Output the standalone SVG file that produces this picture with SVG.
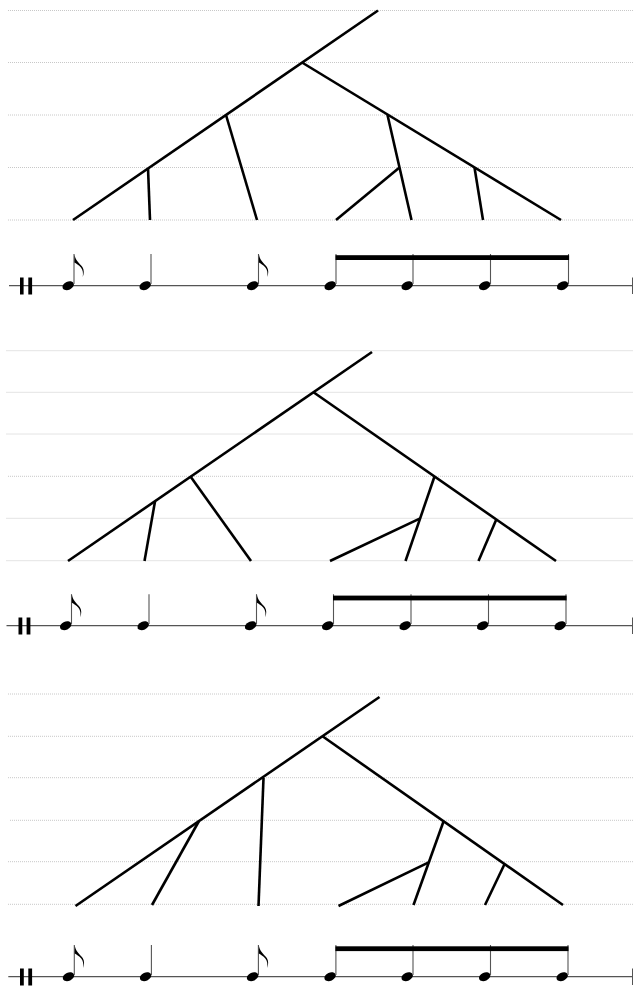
<svg xmlns="http://www.w3.org/2000/svg" xmlns:xlink="http://www.w3.org/1999/xlink" width="633" height="987" viewBox="0 0 633 987">
<style>
.grid{stroke:#c8c8c8;stroke-width:1;stroke-dasharray:1 1;fill:none}
.tree{stroke:#000;stroke-width:2.6;fill:none;stroke-linecap:butt}
.staff{stroke:#555;stroke-width:1.3;fill:none}
.stem{stroke:#555;stroke-width:1.1;fill:none}
.bar{fill:#000}
.endbar{stroke:#555;stroke-width:1;fill:none}
.beam{fill:#000}
</style>
<defs>
<ellipse id="head" cx="0" cy="0" rx="6" ry="4.1" transform="rotate(-24)" fill="#000"/>
<path id="flag" d="M0,0 C0.5,6 5,9 8,13 C9.8,16 9.7,19.5 8.3,23 C9,19 8.5,16 6.5,13.5 C4.5,11 1.5,9.5 0,8.5 Z" fill="#000"/>
</defs>

<!-- Panel 1 -->
<g id="grid1">
<line class="grid" x1="8" y1="10.5" x2="633" y2="10.5"/>
<line class="grid" x1="8" y1="62.5" x2="633" y2="62.5"/>
<line class="grid" x1="8" y1="115" x2="633" y2="115"/>
<line class="grid" x1="8" y1="167.5" x2="633" y2="167.5"/>
<line class="grid" x1="8" y1="220" x2="633" y2="220"/>
</g>
<g id="tree1-connectors">
<line class="tree" x1="378" y1="10.5" x2="73" y2="220"/>
<line class="tree" x1="302" y1="62.5" x2="561" y2="220"/>
<line class="tree" x1="226" y1="115" x2="257" y2="220"/>
<line class="tree" x1="148" y1="168" x2="150" y2="220"/>
<line class="tree" x1="387.5" y1="115" x2="411.5" y2="220"/>
<line class="tree" x1="399.5" y1="167.5" x2="336" y2="220"/>
<line class="tree" x1="474.5" y1="167.5" x2="483" y2="220"/>
</g>
<g id="staff1">
<line class="staff" x1="9" y1="285.7" x2="633" y2="285.7"/>
<rect class="bar" x="20" y="277.5" width="3.6" height="17"/>
<rect class="bar" x="28.3" y="277.5" width="3.8" height="17"/>
<line class="endbar" x1="632.5" y1="277.5" x2="632.5" y2="294"/>
<g id="s1n1"><use xlink:href="#head" x="68.2" y="285.7"/><line class="stem" x1="74" y1="284" x2="74" y2="254"/><use xlink:href="#flag" x="74.4" y="254"/></g>
<g id="s1n2"><use xlink:href="#head" x="145.2" y="285.7"/><line class="stem" x1="151" y1="284" x2="151" y2="254"/></g>
<g id="s1n3"><use xlink:href="#head" x="252.7" y="285.7"/><line class="stem" x1="258.5" y1="284" x2="258.5" y2="254"/><use xlink:href="#flag" x="258.9" y="254"/></g>
<g id="s1n4"><use xlink:href="#head" x="330.2" y="285.7"/><line class="stem" x1="336" y1="284" x2="336" y2="254"/></g>
<g id="s1n5"><use xlink:href="#head" x="407.2" y="285.7"/><line class="stem" x1="413" y1="284" x2="413" y2="254"/></g>
<g id="s1n6"><use xlink:href="#head" x="484.7" y="285.7"/><line class="stem" x1="490.5" y1="284" x2="490.5" y2="254"/></g>
<g id="s1n7"><use xlink:href="#head" x="562.7" y="285.7"/><line class="stem" x1="568.5" y1="284" x2="568.5" y2="254"/></g>
<rect class="beam" x="335.5" y="255.2" width="233.6" height="4.8"/>
</g>

<!-- Panel 2 -->
<g id="grid2">
<line class="grid" x1="6.5" y1="350.7" x2="633" y2="350.7"/>
<line class="grid" x1="6.5" y1="392.3" x2="633" y2="392.3"/>
<line class="grid" x1="6.5" y1="434" x2="633" y2="434"/>
<line class="grid" x1="8" y1="476.3" x2="633" y2="476.3"/>
<line class="grid" x1="6.5" y1="518.3" x2="633" y2="518.3"/>
<line class="grid" x1="6.5" y1="560.7" x2="633" y2="560.7"/>
</g>
<g id="tree2-connectors">
<line class="tree" x1="372" y1="352" x2="68" y2="561"/>
<line class="tree" x1="313.5" y1="392.3" x2="556" y2="561"/>
<line class="tree" x1="190.5" y1="476.5" x2="251" y2="561"/>
<line class="tree" x1="155" y1="501.5" x2="144.5" y2="561"/>
<line class="tree" x1="434.5" y1="476.5" x2="405.5" y2="561"/>
<line class="tree" x1="420.2" y1="518.3" x2="330" y2="561"/>
<line class="tree" x1="496.3" y1="519.5" x2="478.5" y2="561"/>
</g>
<g id="staff2">
<line class="staff" x1="6.5" y1="625.7" x2="633" y2="625.7"/>
<rect class="bar" x="18.5" y="617.5" width="3.8" height="17"/>
<rect class="bar" x="26.6" y="617.5" width="3.8" height="17"/>
<line class="endbar" x1="632.5" y1="617.5" x2="632.5" y2="634"/>
<g id="s2n1"><use xlink:href="#head" x="65.7" y="625.7"/><line class="stem" x1="71.5" y1="624" x2="71.5" y2="594.2"/><use xlink:href="#flag" x="71.9" y="594.2"/></g>
<g id="s2n2"><use xlink:href="#head" x="143.2" y="625.7"/><line class="stem" x1="149" y1="624" x2="149" y2="594.2"/></g>
<g id="s2n3"><use xlink:href="#head" x="250.7" y="625.7"/><line class="stem" x1="256.5" y1="624" x2="256.5" y2="594.2"/><use xlink:href="#flag" x="256.9" y="594.2"/></g>
<g id="s2n4"><use xlink:href="#head" x="327.7" y="625.7"/><line class="stem" x1="333.5" y1="624" x2="333.5" y2="594.2"/></g>
<g id="s2n5"><use xlink:href="#head" x="405.2" y="625.7"/><line class="stem" x1="411" y1="624" x2="411" y2="594.2"/></g>
<g id="s2n6"><use xlink:href="#head" x="482.7" y="625.7"/><line class="stem" x1="488.5" y1="624" x2="488.5" y2="594.2"/></g>
<g id="s2n7"><use xlink:href="#head" x="560.2" y="625.7"/><line class="stem" x1="566" y1="624" x2="566" y2="594.2"/></g>
<rect class="beam" x="333" y="595.6" width="233.6" height="4.8"/>
</g>

<!-- Panel 3 -->
<g id="grid3">
<line class="grid" x1="8" y1="694" x2="633" y2="694"/>
<line class="grid" x1="8" y1="736.3" x2="633" y2="736.3"/>
<line class="grid" x1="8" y1="777.7" x2="633" y2="777.7"/>
<line class="grid" x1="10" y1="820.3" x2="633" y2="820.3"/>
<line class="grid" x1="8" y1="861.7" x2="633" y2="861.7"/>
<line class="grid" x1="8" y1="904.3" x2="633" y2="904.3"/>
</g>
<g id="tree3-connectors">
<line class="tree" x1="379.5" y1="697" x2="75.5" y2="906"/>
<line class="tree" x1="322.5" y1="736.3" x2="563" y2="905"/>
<line class="tree" x1="263.5" y1="778" x2="258.5" y2="906"/>
<line class="tree" x1="199" y1="821" x2="152" y2="905"/>
<line class="tree" x1="443.5" y1="821.5" x2="413.5" y2="905"/>
<line class="tree" x1="428.7" y1="862.3" x2="338.5" y2="906"/>
<line class="tree" x1="504.6" y1="864" x2="485" y2="905"/>
</g>
<g id="staff3">
<line class="staff" x1="8.3" y1="976.7" x2="633" y2="976.7"/>
<rect class="bar" x="20" y="968.5" width="3.8" height="17"/>
<rect class="bar" x="28.3" y="968.5" width="3.8" height="17"/>
<line class="endbar" x1="632.5" y1="968.5" x2="632.5" y2="985"/>
<g id="s3n1"><use xlink:href="#head" x="68.5" y="976.7"/><line class="stem" x1="74.3" y1="975" x2="74.3" y2="945"/><use xlink:href="#flag" x="74.7" y="945"/></g>
<g id="s3n2"><use xlink:href="#head" x="145.6" y="976.7"/><line class="stem" x1="151.4" y1="975" x2="151.4" y2="945"/></g>
<g id="s3n3"><use xlink:href="#head" x="252.6" y="976.7"/><line class="stem" x1="258.4" y1="975" x2="258.4" y2="945"/><use xlink:href="#flag" x="258.8" y="945"/></g>
<g id="s3n4"><use xlink:href="#head" x="330.1" y="976.7"/><line class="stem" x1="335.9" y1="975" x2="335.9" y2="945"/></g>
<g id="s3n5"><use xlink:href="#head" x="407.2" y="976.7"/><line class="stem" x1="413" y1="975" x2="413" y2="945"/></g>
<g id="s3n6"><use xlink:href="#head" x="484.7" y="976.7"/><line class="stem" x1="490.5" y1="975" x2="490.5" y2="945"/></g>
<g id="s3n7"><use xlink:href="#head" x="562.2" y="976.7"/><line class="stem" x1="568" y1="975" x2="568" y2="945"/></g>
<rect class="beam" x="335.4" y="946.3" width="233.1" height="4.8"/>
</g>
</svg>
